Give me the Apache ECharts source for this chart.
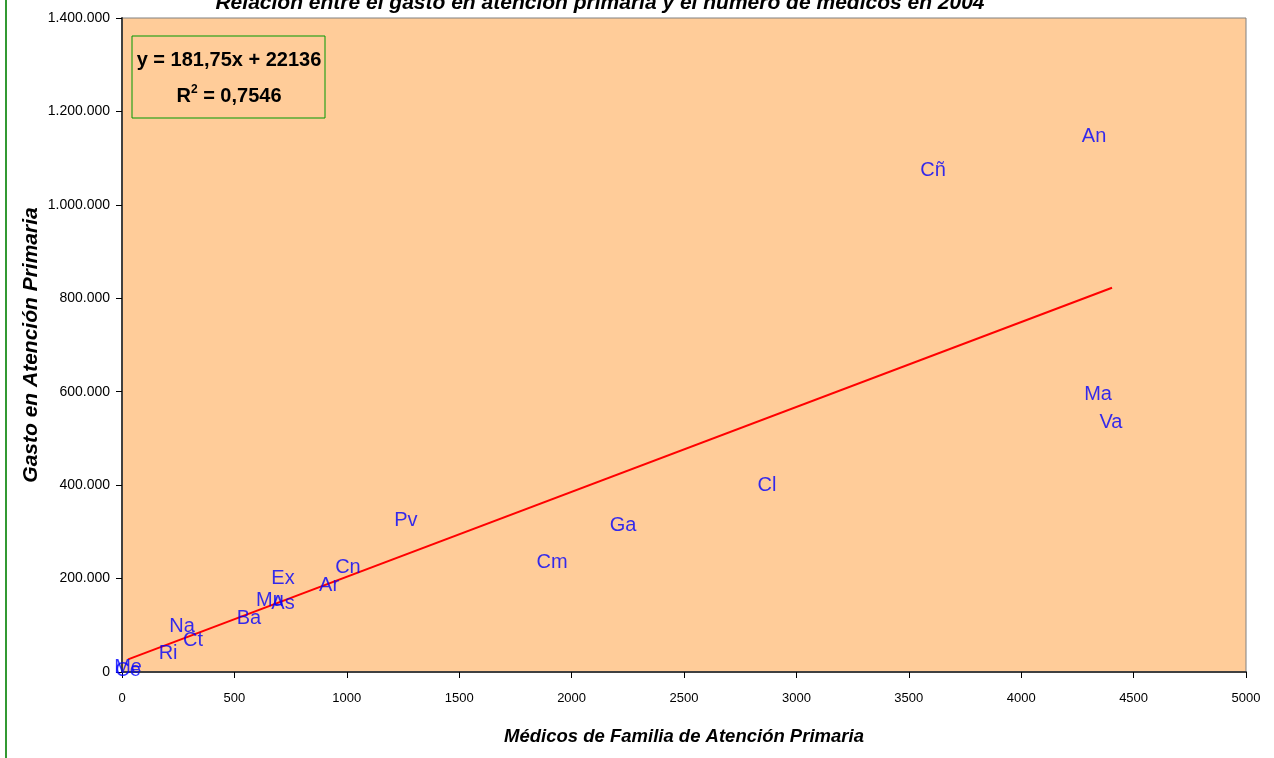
<!DOCTYPE html>
<html><head><meta charset="utf-8">
<script src="https://cdn.jsdelivr.net/npm/echarts@6/dist/echarts.min.js"></script>
<style>html,body{margin:0;padding:0;background:#fff}#c{width:1274px;height:758px}</style>
</head><body><div id="c"></div>
<script>
const regions = ['An','Cñ','Ma','Va','Cl','Ga','Cm','Pv','Cn','Ar','Ex','As','Mu','Ba','Na','Ct','Ri','Me','Ce'];
const medicos = [4324,3608,4342,4399,2869,2229,1913,1263,1005,921,716,716,658,565,267,316,205,27,27];
const gasto = [1147000,1074600,593000,535200,398200,314700,235500,325400,224800,186200,201200,145600,154100,113500,98500,68500,40700,10000,4000];
const trendX = [27, 4404];
const trendY = [27043, 822570];
const titleText = 'Relación entre el gasto en atención primaria y el número de médicos en 2004';
const eqText = 'y = 181,75x + 22136';
const r2Text = 'R{sup|2} = 0,7546';

const fmtThousands = v => v === 0 ? '0' : String(v).replace(/\B(?=(\d{3})+(?!\d))/g, '.');
const chart = echarts.init(document.getElementById('c'), null, {renderer:'canvas'});
const font = 'Liberation Sans, Arial, sans-serif';
chart.setOption({
  animation:false,
  backgroundColor:'#fff',
  textStyle:{fontFamily:font},
  title:{text:titleText,left:595,top:-12,textAlign:'center',
    textStyle:{fontSize:21,fontWeight:'bold',fontStyle:'italic',color:'#000',fontFamily:font}},
  grid:{left:122,right:28,top:18,bottom:86,show:true,backgroundColor:'#FFCC99',borderColor:'#808080',borderWidth:1},
  xAxis:{type:'value',min:0,max:5000,interval:500,
    name:'Médicos de Familia de Atención Primaria',nameLocation:'middle',nameGap:55,
    nameTextStyle:{fontSize:18.5,fontWeight:'bold',fontStyle:'italic',color:'#000',fontFamily:font},
    axisLine:{show:true,lineStyle:{color:'#404040',width:2}},
    axisTick:{show:true,length:6,lineStyle:{color:'#000'}},
    axisLabel:{fontSize:13,color:'#000',margin:20,fontFamily:font,formatter:v=>String(v)},
    splitLine:{show:false}},
  yAxis:{type:'value',min:0,max:1400000,interval:200000,
    name:'Gasto en Atención Primaria',nameLocation:'middle',nameGap:80,nameRotate:90,nameMoveOverlap:false,
    nameTextStyle:{fontSize:21,fontWeight:'bold',fontStyle:'italic',color:'#000',fontFamily:font},
    axisLine:{show:true,lineStyle:{color:'#404040',width:2}},
    axisTick:{show:true,length:6,lineStyle:{color:'#000'}},
    axisLabel:{fontSize:14,color:'#000',margin:12,formatter:fmtThousands,fontFamily:font},
    splitLine:{show:false}},
  series:[
    {type:'line',data:trendX.map((x,i)=>[x,trendY[i]]),symbol:'none',
     lineStyle:{color:'#FF0000',width:2},z:2},
    {type:'scatter',data:medicos.map((x,i)=>[x,gasto[i],regions[i]]),symbolSize:1,
     itemStyle:{color:'rgba(0,0,0,0)'},
     label:{show:true,position:'inside',formatter:p=>p.data[2],color:'#0000FF',fontSize:20,fontFamily:font},
     z:3}
  ],
  graphic:[
    {type:'line',shape:{x1:6,y1:0,x2:6,y2:758},style:{stroke:'#339933',lineWidth:2}},
    {type:'rect',shape:{x:132,y:36,width:193,height:82},style:{fill:'#FFCC99',stroke:'#009900',lineWidth:1},z:10},
    {type:'text',x:229,y:60,z:11,style:{text:eqText,fontSize:20,fontWeight:'bold',fill:'#000',align:'center',verticalAlign:'middle',fontFamily:font}},
    {type:'text',x:229,y:96,z:11,style:{text:r2Text,fontSize:20,fontWeight:'bold',fill:'#000',align:'center',verticalAlign:'middle',fontFamily:font,
      rich:{sup:{fontSize:12,fontWeight:'bold',verticalAlign:'top',padding:[0,0,12,0],fontFamily:font}}}}
  ]
});
</script></body></html>
